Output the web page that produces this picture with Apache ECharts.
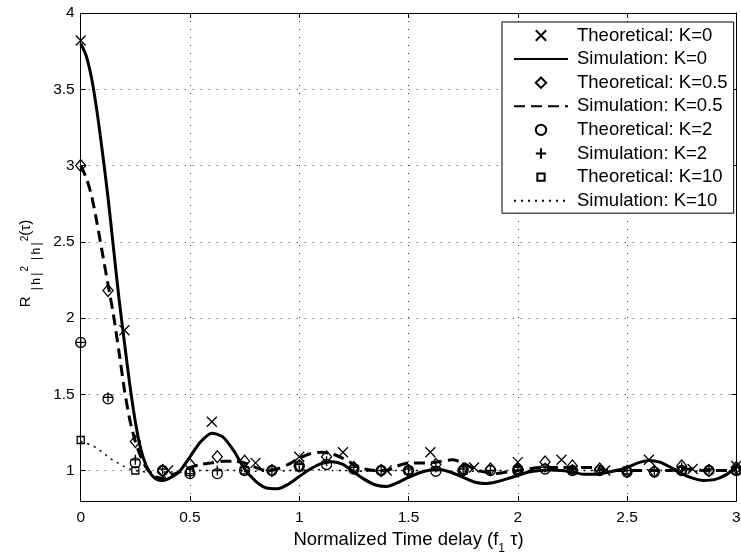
<!DOCTYPE html>
<html><head><meta charset="utf-8">
<script src="https://cdn.jsdelivr.net/npm/echarts@6/dist/echarts.min.js"></script>
<style>html,body{margin:0;padding:0;background:#fff}#c{width:741px;height:556px}</style>
</head><body><div id="c"></div>
<script>
// ---- data ----
const X_TICKS = [0, 0.5, 1, 1.5, 2, 2.5, 3];
const Y_TICKS = [1, 1.5, 2, 2.5, 3, 3.5, 4];

const X_SIM = [0,0.025,0.05,0.075,0.1,0.125,0.15,0.175,0.2,0.225,0.25,0.275,0.3,0.325,0.35,0.375,0.4,
  0.45,0.5,0.55,0.6,0.65,0.7,0.75,0.8,0.85,0.9,0.95,1,1.05,1.1,1.15,1.2,1.25,1.3,1.35,1.4,1.45,
  1.5,1.55,1.6,1.65,1.7,1.75,1.8,1.85,1.9,1.95,2,2.05,2.1,2.15,2.2,2.25,2.3,2.35,2.4,2.45,
  2.5,2.55,2.6,2.65,2.7,2.75,2.8,2.85,2.9,2.95,3];

const SIM_K0 = [3.80,3.72,3.57,3.35,3.08,2.79,2.46,2.13,1.84,1.56,1.32,1.14,1.03,0.97,0.94,0.935,0.945,
  0.99,1.09,1.19,1.245,1.22,1.13,1.01,0.93,0.885,0.88,0.91,0.96,1.01,1.045,1.058,1.04,0.99,0.94,0.905,0.895,0.92,
  0.955,0.985,1.003,1.005,0.985,0.955,0.925,0.915,0.925,0.945,0.967,0.99,1.0,1.003,1.0,0.99,0.976,0.975,0.985,1.0,
  1.02,1.05,1.066,1.055,1.02,0.98,0.95,0.935,0.94,0.97,1.02];

const SIM_K05 = [3.00,2.92,2.80,2.62,2.42,2.22,2.02,1.78,1.53,1.33,1.19,1.09,1.02,0.975,0.955,0.95,0.96,
  0.99,1.02,1.04,1.05,1.06,1.06,1.05,1.02,1.0,1.01,1.04,
  1.08,1.11,1.12,1.11,1.08,1.04,1.01,1.0,1.0,1.03,
  1.05,1.05,1.05,1.06,1.07,1.05,1.01,0.99,0.98,0.99,
  1.0,1.01,1.02,1.02,1.02,1.02,1.02,1.02,1.0,1.0,
  1.0,1.0,1.0,1.0,1.0,1.01,1.01,1.0,1.0,1.0,1.01];

const SIM_K10 = [1.19,1.18,1.165,1.145,1.12,1.09,1.065,1.045,1.025,1.01,1.0,0.995,0.99,0.99,0.99,0.99,0.99,
  0.99,0.995,1.0,1.0,1.005,1.0,1.0,0.995,0.995,0.995,
  1.0,1.0,1.005,1.005,1.0,1.0,0.995,0.995,0.995,1.0,
  1.0,1.0,1.0,1.0,1.0,0.995,0.995,0.995,1.0,1.0,
  1.0,1.0,1.0,1.0,1.0,1.0,1.0,1.0,1.0,1.0,
  1.0,1.0,1.005,1.005,1.0,1.0,0.995,0.995,0.995,1.0,1.0,1.0];

const X_TH_K0 = [0,0.2,0.4,0.6,0.8,1.0,1.2,1.4,1.6,1.8,2.0,2.2,2.4,2.6,2.8,3.0];
const TH_K0 = [3.82,1.92,1.0,1.32,1.05,1.09,1.12,1.0,1.12,1.02,1.055,1.07,1.0,1.07,1.01,1.03];

const X_125 = [0,0.125,0.25,0.375,0.5,0.625,0.75,0.875,1,1.125,1.25,1.375,1.5,1.625,1.75,1.875,2,2.125,2.25,2.375,2.5,2.625,2.75,2.875,3];
const TH_K05 = [3.0,2.18,1.19,1.0,1.04,1.09,1.06,1.0,1.03,1.09,1.02,1.0,1.0,1.04,1.01,1.01,1.01,1.055,1.03,1.01,0.995,0.995,1.03,1.0,1.02];
const TH_K2 = [1.84,1.47,1.05,1.0,0.98,0.98,1.0,1.0,1.03,1.04,1.01,1.0,1.0,0.995,1.0,1.0,1.0,1.01,1.0,1.0,0.99,0.99,1.0,1.0,1.0];
const SIM_K2 = [1.84,1.48,1.07,1.01,0.98,1.0,1.02,1.0,1.04,1.06,1.02,1.0,1.01,1.02,1.01,1.0,1.02,1.02,1.01,1.0,1.0,1.0,1.02,1.01,1.02];

const X_25 = [0,0.25,0.5,0.75,1,1.25,1.5,1.75,2,2.25,2.5,2.75,3];
const TH_K10 = [1.2,1.0,0.99,1.0,1.02,1.01,1.0,1.0,1.0,1.0,1.0,1.0,1.0];

const NAMES = ['Theoretical: K=0','Simulation: K=0','Theoretical: K=0.5','Simulation: K=0.5',
  'Theoretical: K=2','Simulation: K=2','Theoretical: K=10','Simulation: K=10'];

// ---- chart ----
const F = '"Liberation Sans", Arial, Helvetica, sans-serif';
function pairs(xs, ys) { return xs.map((x, i) => [x, ys[i]]); }
const MK = { color: 'transparent', borderColor: '#000', borderWidth: 1.3 };
function markers(name, xs, ys, symbol, size, keep) {
  return { name, type: 'line', data: pairs(xs, ys), symbol, symbolSize: size, symbolKeepAspect: !!keep,
    showSymbol: true, showAllSymbol: true, lineStyle: { opacity: 0, width: 0 }, itemStyle: MK,
    emphasis: { disabled: true }, z: 3, animation: false };
}
function curve(name, xs, ys, ls) {
  return { name, type: 'line', data: pairs(xs, ys), symbol: 'none', showSymbol: false,
    smooth: 0.25, lineStyle: Object.assign({ color: '#000' }, ls),
    itemStyle: { color: '#000' }, emphasis: { disabled: true }, z: 2, animation: false };
}
const CROSS = 'path://M0,0L10,10M10,0L0,10';
const PLUS = 'path://M5,0L5,10M0,5L10,5';
const SQUARE = 'path://M-3,-3M17,17M0,0L14,0L14,14L0,14Z';

const legendData = NAMES.map((n, i) => (i === 1 || i === 3 || i === 7)
  ? { name: n, itemStyle: { opacity: 0 } } : { name: n });

const chart = echarts.init(document.getElementById('c'));
chart.setOption({
  animation: false,
  backgroundColor: '#fff',
  grid: { left: 80.7, right: 4.7, top: 13, bottom: 55, containLabel: false, outerBoundsMode: 'none' },
  xAxis: [{
    type: 'value', min: 0, max: 3, interval: 0.5,
    axisLine: { onZero: false, lineStyle: { color: '#000', width: 1 } },
    axisTick: { inside: true, length: 5, lineStyle: { color: '#000' } },
    axisLabel: { margin: 9, fontSize: 15.5, color: '#000', fontFamily: F, formatter: v => String(v) },
    splitLine: { show: true, lineStyle: { type: [1, 7], color: '#333' } },
    name: '{a|Normalized Time delay (f}{b|1}{a| \u03c4)}',
    nameLocation: 'middle', nameGap: 29.5,
    nameTextStyle: { rich: {
      a: { fontSize: 18.5, fontFamily: F, color: '#000', verticalAlign: 'bottom', padding: [0, 0, 5, 0] },
      b: { fontSize: 12, fontFamily: F, color: '#000', verticalAlign: 'bottom', padding: [0, 0, 0, 0] } } }
  }, {
    type: 'value', min: 0, max: 3, interval: 0.5, position: 'top',
    axisLine: { onZero: false, lineStyle: { color: '#000', width: 1 } },
    axisTick: { inside: true, length: 5, lineStyle: { color: '#000' } },
    axisLabel: { show: false }, splitLine: { show: false }
  }],
  yAxis: [{
    type: 'value', min: 0.8, max: 4,
    axisLine: { show: true, onZero: false, lineStyle: { color: '#000', width: 1 } },
    axisTick: { show: true, inside: true, length: 5, customValues: Y_TICKS, lineStyle: { color: '#000' } },
    axisLabel: { customValues: Y_TICKS, margin: 6, fontSize: 15.5, color: '#000', fontFamily: F, formatter: v => String(v) },
    splitLine: { show: true, lineStyle: { type: [1, 7], color: '#333' } },
    name: '{n|R}{s|\u007c\u2009h\u2009\u007c}{p|2}{s2|\u007c\u2009h\u2009\u007c}{p|2}{e|(\u03c4)}',
    nameLocation: 'middle', nameRotate: 90, nameGap: 38,
    nameTextStyle: { rich: {
      n: { fontSize: 15, fontFamily: F, color: '#000', verticalAlign: 'bottom', padding: [0, 0, 9, 0] },
      e: { fontSize: 15, fontFamily: F, color: '#000', verticalAlign: 'bottom', padding: [0, 13, 9, 0] },
      s: { fontSize: 12, fontFamily: F, color: '#000', verticalAlign: 'bottom', padding: [0, 0, 0, 6] },
      s2: { fontSize: 12, fontFamily: F, color: '#000', verticalAlign: 'bottom', padding: [0, 0, 0, 6] },
      p: { fontSize: 10, fontFamily: F, color: '#000', verticalAlign: 'bottom', padding: [0, 0, 12, 1] } } }
  }, {
    type: 'value', min: 0.8, max: 4, position: 'right',
    axisLine: { show: true, onZero: false, lineStyle: { color: '#000', width: 1 } },
    axisTick: { show: true, inside: true, length: 5, customValues: Y_TICKS, lineStyle: { color: '#000' } },
    axisLabel: { show: false }, splitLine: { show: false }
  }],
  legend: {
    orient: 'vertical', left: 502, top: 22, padding: [4, 6, 3, 11], itemGap: 4.6,
    itemWidth: 54, itemHeight: 13, backgroundColor: '#fff', borderColor: '#000', borderWidth: 1, borderRadius: 0,
    textStyle: { fontFamily: F, fontSize: 18.5, color: '#000', padding: [0, 0, 0, 4], lineHeight: 18 },
    data: legendData, selectedMode: false
  },
  series: [
    markers(NAMES[0], X_TH_K0, TH_K0, CROSS, 10),
    curve(NAMES[1], X_SIM, SIM_K0, { width: 3, type: 'solid' }),
    markers(NAMES[2], X_125, TH_K05, 'diamond', [10, 12], true),
    curve(NAMES[3], X_SIM, SIM_K05, { width: 3, type: [11, 6] }),
    markers(NAMES[4], X_125, TH_K2, 'circle', 10),
    markers(NAMES[5], X_125, SIM_K2, PLUS, 10),
    markers(NAMES[6], X_25, TH_K10, SQUARE, 10),
    curve(NAMES[7], X_SIM, SIM_K10, { width: 1.5, type: [2, 5] })
  ]
});
</script>
</body></html>
